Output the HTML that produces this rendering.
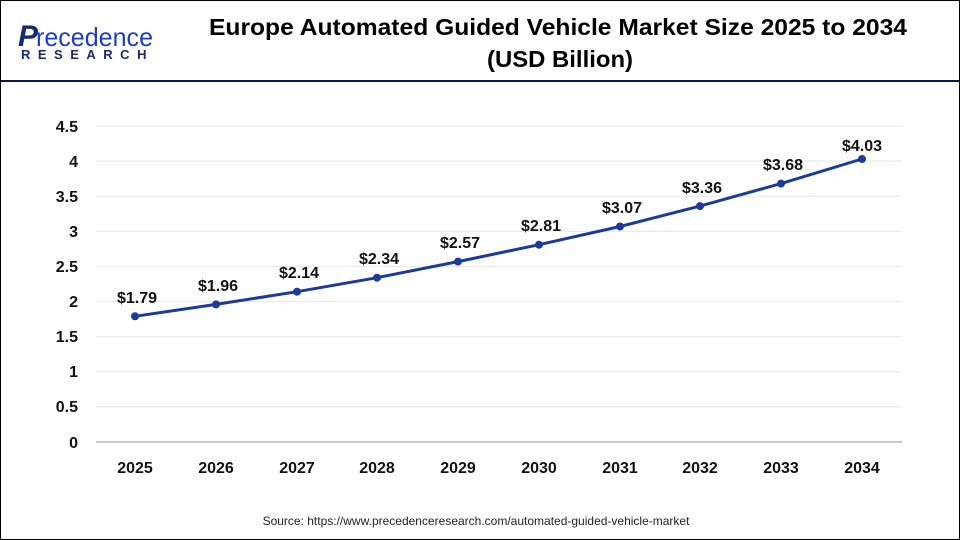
<!DOCTYPE html>
<html><head><meta charset="utf-8"><style>
body{margin:0;background:#fff}
svg{display:block}
</style></head><body>
<svg width="960" height="540" viewBox="0 0 960 540" font-family="Liberation Sans, Arial, sans-serif">
<rect x="0.5" y="0.5" width="959" height="539" fill="#fff" stroke="#000" stroke-width="1"/>
<line x1="1" y1="81" x2="959" y2="81" stroke="#0d1740" stroke-width="2"/>
<text x="18" y="46" font-size="30" fill="#1a2a6e" font-weight="bold" font-style="italic">P</text>
<text x="36" y="46" font-size="26" fill="#1e3fbf" textLength="117" lengthAdjust="spacingAndGlyphs">recedence</text>
<text x="21" y="59" font-size="13" fill="#1a2a6e" font-weight="bold" letter-spacing="7.5">RESEARCH</text>
<text x="558" y="35" font-size="23" font-weight="bold" text-anchor="middle" fill="#000" textLength="698" lengthAdjust="spacingAndGlyphs">Europe Automated Guided Vehicle Market Size 2025 to 2034</text>
<text x="560" y="67" font-size="23" font-weight="bold" text-anchor="middle" fill="#000" textLength="146" lengthAdjust="spacingAndGlyphs">(USD Billion)</text>
<g stroke="#e6e6e6" stroke-width="1">
<line x1="96" x2="902" y1="126" y2="126"/><line x1="96" x2="902" y1="161" y2="161"/>
<line x1="96" x2="902" y1="196.3" y2="196.3"/><line x1="96" x2="902" y1="231.3" y2="231.3"/>
<line x1="96" x2="902" y1="266.4" y2="266.4"/><line x1="96" x2="902" y1="301.6" y2="301.6"/>
<line x1="96" x2="902" y1="336.7" y2="336.7"/><line x1="96" x2="902" y1="371.8" y2="371.8"/>
<line x1="96" x2="902" y1="406.9" y2="406.9"/>
</g>
<line x1="96" x2="902" y1="442" y2="442" stroke="#999" stroke-width="1"/>
<g font-size="16" font-weight="bold" text-anchor="end" fill="#111">
<text x="78" y="132">4.5</text><text x="78" y="167">4</text><text x="78" y="202">3.5</text>
<text x="78" y="237">3</text><text x="78" y="272">2.5</text><text x="78" y="307">2</text>
<text x="78" y="342">1.5</text><text x="78" y="377">1</text><text x="78" y="412">0.5</text>
<text x="78" y="448">0</text>
</g>
<g font-size="16" font-weight="bold" text-anchor="middle" fill="#111">
<text x="135" y="473">2025</text><text x="216" y="473">2026</text><text x="297" y="473">2027</text>
<text x="377" y="473">2028</text><text x="458" y="473">2029</text><text x="539" y="473">2030</text>
<text x="620" y="473">2031</text><text x="700" y="473">2032</text><text x="781" y="473">2033</text>
<text x="862" y="473">2034</text>
</g>
<polyline fill="none" stroke="#1b3a9a" stroke-width="3" points="135,316.3 216,304.4 297,291.7 377,277.7 458,261.6 539,244.7 620,226.5 700,206.1 781,183.6 862,159"/>
<g fill="#1b3a9a">
<circle cx="135" cy="316.3" r="4"/><circle cx="216" cy="304.4" r="4"/><circle cx="297" cy="291.7" r="4"/>
<circle cx="377" cy="277.7" r="4"/><circle cx="458" cy="261.6" r="4"/><circle cx="539" cy="244.7" r="4"/>
<circle cx="620" cy="226.5" r="4"/><circle cx="700" cy="206.1" r="4"/><circle cx="781" cy="183.6" r="4"/>
<circle cx="862" cy="159" r="4"/>
</g>
<g font-size="16" font-weight="bold" text-anchor="middle" fill="#111">
<text x="137" y="303">$1.79</text><text x="218" y="291">$1.96</text><text x="299" y="278">$2.14</text>
<text x="379" y="264">$2.34</text><text x="460" y="248">$2.57</text><text x="541" y="231">$2.81</text>
<text x="622" y="213">$3.07</text><text x="702" y="193">$3.36</text><text x="783" y="170">$3.68</text>
<text x="862" y="151">$4.03</text>
</g>
<text x="476" y="525" font-size="12" text-anchor="middle" fill="#222">Source: https://www.precedenceresearch.com/automated-guided-vehicle-market</text>
</svg>
</body></html>
